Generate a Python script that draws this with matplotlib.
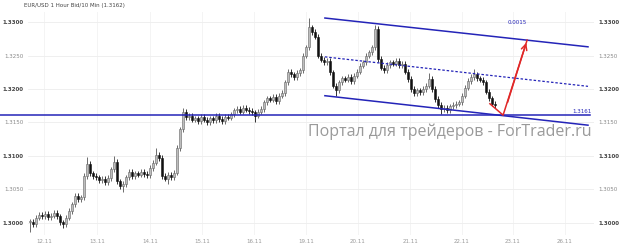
import matplotlib
matplotlib.use("Agg")
import matplotlib.pyplot as plt
from matplotlib.patches import Rectangle

# hourly closes, EUR/USD
closes = [
    1.3002, 1.2998, 1.3008, 1.3012, 1.3010, 1.3014, 1.3009, 1.3011, 1.3015, 1.3010,
    1.3001, 1.2998, 1.3008, 1.3018, 1.3028, 1.3040, 1.3036, 1.3038, 1.3070, 1.3088,
    1.3074, 1.3070, 1.3068, 1.3064, 1.3066, 1.3061, 1.3067, 1.3080, 1.3091, 1.3062,
    1.3055, 1.3058, 1.3068, 1.3076, 1.3070, 1.3074, 1.3072, 1.3076, 1.3073, 1.3071,
    1.3082, 1.3090, 1.3102, 1.3097, 1.3070, 1.3066, 1.3072, 1.3068, 1.3075, 1.3112,
    1.3140, 1.3166, 1.3158, 1.3160, 1.3154, 1.3156, 1.3152, 1.3158, 1.3154, 1.3150,
    1.3156, 1.3153, 1.3160, 1.3155, 1.3152, 1.3158, 1.3157, 1.3162, 1.3168, 1.3170,
    1.3166, 1.3172, 1.3169, 1.3167, 1.3165, 1.3160, 1.3166, 1.3170, 1.3180, 1.3186,
    1.3184, 1.3188, 1.3182, 1.3190, 1.3194, 1.3210, 1.3226, 1.3222, 1.3218, 1.3224,
    1.3228, 1.3250, 1.3262, 1.3292, 1.3285, 1.3278, 1.3250, 1.3244, 1.3240, 1.3242,
    1.3225, 1.3205, 1.3198, 1.3210, 1.3216, 1.3214, 1.3218, 1.3212, 1.3220, 1.3226,
    1.3235, 1.3240, 1.3250, 1.3255, 1.3262, 1.3290, 1.3245, 1.3232, 1.3228, 1.3236,
    1.3240, 1.3238, 1.3242, 1.3236, 1.3238, 1.3226, 1.3215, 1.3200, 1.3194, 1.3198,
    1.3195, 1.3200, 1.3205, 1.3215, 1.3200, 1.3185, 1.3176, 1.3170, 1.3172, 1.3168,
    1.3174, 1.3176, 1.3178, 1.3180, 1.3190, 1.3202, 1.3212, 1.3218, 1.3222, 1.3216,
    1.3214, 1.3210, 1.3196, 1.3186, 1.3178, 1.3176,
]
# notable wick extremes (candle index -> price)
spike_highs = {19: 1.3098, 28: 1.3100, 42: 1.3112, 51: 1.3172, 93: 1.3306,
               115: 1.3296, 133: 1.3224, 148: 1.3230}
spike_lows = {0: 1.2986, 11: 1.2992, 31: 1.3046, 46: 1.3058, 75: 1.3150,
              102: 1.3190, 137: 1.3162}
wick = 0.0004

ytick_vals = [1.3000, 1.3050, 1.3100, 1.3150, 1.3200, 1.3250, 1.3300]
ytick_labels = ["1.3000", "1.3050", "1.3100", "1.3150", "1.3200", "1.3250", "1.3300"]
xtick_pos = [4.7, 22.3, 40, 57.3, 74.7, 92, 109.3, 126.7, 144, 161, 178.3]
xtick_labels = ["12.11", "13.11", "14.11", "15.11", "16.11", "19.11",
                "20.11", "21.11", "22.11", "23.11", "26.11"]

# channel drawn on the chart: (x0, y0, x1, y1)
upper_line = (98.3, 1.3306, 186, 1.3263)
mid_line = (98.3, 1.3248, 186, 1.3204)
lower_line = (98.3, 1.3190, 186, 1.3146)
support = 1.3161
arrow_x = [153.3, 157.7, 165.7]
arrow_y = [1.3178, 1.3161, 1.3273]

blue = "#2424b8"
red = "#e02828"

fig = plt.figure(figsize=(6.23, 2.46), dpi=100)
ax = fig.add_axes([28 / 623, 11 / 246, 566 / 623, 223 / 246])
ax.set_xlim(-0.67, 188)
ax.set_ylim(1.2982, 1.3315)

for x in xtick_pos:
    ax.axvline(x, color="#f2f2f2", lw=0.6, zorder=0)
for y in ytick_vals:
    ax.axhline(y, color="#ededed", lw=0.6, zorder=0)

# candles
for i, c in enumerate(closes):
    o = closes[i - 1] if i > 0 else c
    hi = spike_highs.get(i, max(o, c) + wick)
    lo = spike_lows.get(i, min(o, c) - wick)
    up = c >= o
    ax.vlines(i, lo, hi, color="#555555" if up else "#111111", lw=0.6, zorder=2)
    h = abs(c - o) if abs(c - o) > 0.00005 else 0.00005
    ax.add_patch(Rectangle((i - 0.4, min(o, c)), 0.8, h,
                           facecolor="#bdbdbd" if up else "#111111",
                           edgecolor="#666666" if up else "#111111",
                           lw=0.4, zorder=3))

# channel and levels
for x0, y0, x1, y1 in (upper_line, lower_line):
    ax.plot([x0, x1], [y0, y1], color=blue, lw=1.1, zorder=4)
ax.plot([mid_line[0], mid_line[2]], [mid_line[1], mid_line[3]],
        color=blue, lw=0.9, ls=(0, (2, 1.5)), zorder=4)
ax.plot([-10, 186.7], [support, support], color=blue, lw=1.1, zorder=4, clip_on=False)
ax.plot(arrow_x, arrow_y, color=red, lw=1.1, zorder=5)
ax.annotate("", xy=(arrow_x[2], arrow_y[2]), xytext=(arrow_x[1] + 1.2, arrow_y[1] + 0.0015),
            arrowprops=dict(arrowstyle="->", color=red, lw=1.1), zorder=5)

ax.text(162.5, 1.3295, "0.0015", color=blue, fontsize=4, ha="center", va="bottom")
ax.text(184, support + 0.0002, "1.3161", color=blue, fontsize=4, ha="center", va="bottom")

ax.set_yticks(ytick_vals)
ax.set_yticklabels(ytick_labels)
ax.set_xticks(xtick_pos)
ax.set_xticklabels(xtick_labels)
ax.tick_params(axis="y", labelleft=True, labelright=True, length=0,
               labelsize=4, labelcolor="#888888", pad=3)
ax.tick_params(axis="x", length=0, labelsize=4, labelcolor="#999999", pad=3)
for lbl in ax.get_yticklabels(which="both"):
    if lbl.get_text().endswith("00"):
        lbl.set_color("#444444")
        lbl.set_fontweight("bold")
for lbl in ax.yaxis.get_ticklabels(which="major"):
    pass
for t in ax.yaxis.get_major_ticks():
    if t.label2.get_text().endswith("00"):
        t.label2.set_color("#444444")
        t.label2.set_fontweight("bold")
for s in ax.spines.values():
    s.set_visible(False)

fig.text(24 / 623, 1 - 6 / 246, "EUR/USD 1 Hour Bid/10 Min (1.3162)",
         fontsize=4, color="#444444", va="center")
fig.text(450 / 623, 1 - 132 / 246, "Портал для трейдеров - ForTrader.ru",
         fontsize=11.5, color="#9a9a9a", family="Open Sans", ha="center", va="center")

fig.savefig("out.png", dpi=100)
